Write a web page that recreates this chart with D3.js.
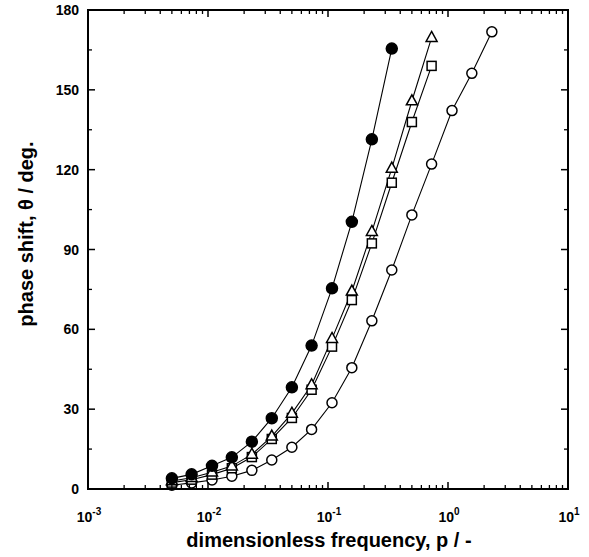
<!DOCTYPE html>
<html><head><meta charset="utf-8">
<script src="https://cdn.jsdelivr.net/npm/d3@7"></script>
<style>body{margin:0;background:#fff}</style>
</head><body>
<svg id="c" width="589" height="557"></svg>
<script>
const freqs = [0.005, 0.0073, 0.0108, 0.0158, 0.0232, 0.034, 0.05, 0.073, 0.108, 0.158, 0.232, 0.34, 0.5, 0.73, 1.08, 1.58, 2.32];
const filledCircle = [4.0, 5.5, 8.7, 11.9, 17.8, 26.6, 38.2, 53.9, 75.4, 100.4, 131.4, 165.5];
const triangle = [3.0, 4.2, 6.3, 8.6, 13.0, 19.8, 28.4, 39.1, 56.5, 74.3, 96.7, 120.5, 145.8, 169.6];
const square = [2.4, 3.5, 5.4, 7.8, 12.0, 18.8, 26.7, 37.3, 53.5, 71.0, 92.3, 115.1, 137.9, 159.0];
const openCircle = [1.4, 2.3, 3.4, 4.8, 7.0, 10.9, 15.7, 22.4, 32.4, 45.6, 63.2, 82.3, 103.0, 122.1, 142.2, 156.2, 171.8];
const yTicks = [0, 30, 60, 90, 120, 150, 180];
const xTickExps = [-3, -2, -1, 0, 1];

const svg = d3.select("#c");
const L = 88, R = 568, T = 10, B = 489;
const x = d3.scaleLog().domain([1e-3, 10]).range([L, R]);
const y = d3.scaleLinear().domain([0, 180]).range([B, T]);

const font = "Liberation Sans, Arial, sans-serif";

const series = [
  {vals: openCircle, type: "circle", fill: "#fff"},
  {vals: square, type: "square", fill: "#fff"},
  {vals: triangle, type: "triangle", fill: "#fff"},
  {vals: filledCircle, type: "circle", fill: "#000"}
];
const line = d3.line().x(d => x(d[0])).y(d => y(d[1]));
series.forEach(s => {
  const pts = s.vals.map((v, i) => [freqs[i], v]);
  svg.append("path").attr("d", line(pts)).attr("fill", "none").attr("stroke", "#000").attr("stroke-width", 1.1);
});
series.forEach(s => {
  const pts = s.vals.map((v, i) => [freqs[i], v]);
  const g = svg.append("g");
  pts.forEach(p => {
    const cx = x(p[0]), cy = y(p[1]);
    if (s.type === "circle") {
      g.append("circle").attr("cx", cx).attr("cy", cy).attr("r", s.fill === "#000" ? 5.5 : 5)
        .attr("fill", s.fill).attr("stroke", "#000").attr("stroke-width", 1.5);
    } else if (s.type === "square") {
      g.append("rect").attr("x", cx - 4.5).attr("y", cy - 4.5).attr("width", 9).attr("height", 9)
        .attr("fill", s.fill).attr("stroke", "#000").attr("stroke-width", 1.5);
    } else {
      const h = 10, w = 11;
      g.append("path").attr("d", `M${cx},${cy - h * 0.62}L${cx + w / 2},${cy + h * 0.38}L${cx - w / 2},${cy + h * 0.38}Z`)
        .attr("fill", s.fill).attr("stroke", "#000").attr("stroke-width", 1.5);
    }
  });
});

const xMinor = [];
for (let e = -3; e < 1; e++) for (let m = 2; m <= 9; m++) xMinor.push(m * Math.pow(10, e));
const xMajor = xTickExps.map(e => Math.pow(10, e));
const yMinor = d3.range(15, 180, 30);

const ax = svg.append("g").attr("stroke", "#000");
xMajor.forEach(v => {
  ax.append("line").attr("x1", x(v)).attr("x2", x(v)).attr("y1", B).attr("y2", B - 7).attr("stroke-width", 1.5);
  ax.append("line").attr("x1", x(v)).attr("x2", x(v)).attr("y1", T).attr("y2", T + 7).attr("stroke-width", 1.5);
});
xMinor.forEach(v => {
  ax.append("line").attr("x1", x(v)).attr("x2", x(v)).attr("y1", B).attr("y2", B - 4).attr("stroke-width", 1.3);
  ax.append("line").attr("x1", x(v)).attr("x2", x(v)).attr("y1", T).attr("y2", T + 4).attr("stroke-width", 1.3);
});
yTicks.forEach(v => {
  ax.append("line").attr("x1", L).attr("x2", L + 7).attr("y1", y(v)).attr("y2", y(v)).attr("stroke-width", 1.5);
  ax.append("line").attr("x1", R).attr("x2", R - 7).attr("y1", y(v)).attr("y2", y(v)).attr("stroke-width", 1.5);
});
yMinor.forEach(v => {
  ax.append("line").attr("x1", L).attr("x2", L + 4).attr("y1", y(v)).attr("y2", y(v)).attr("stroke-width", 1.3);
  ax.append("line").attr("x1", R).attr("x2", R - 4).attr("y1", y(v)).attr("y2", y(v)).attr("stroke-width", 1.3);
});
svg.append("rect").attr("x", L).attr("y", T).attr("width", R - L).attr("height", B - T)
  .attr("fill", "none").attr("stroke", "#000").attr("stroke-width", 2);

yTicks.forEach(v => {
  svg.append("text").attr("x", L - 9).attr("y", y(v) + 5).attr("text-anchor", "end")
    .attr("font-family", font).attr("font-size", 14).attr("font-weight", "bold").text(v);
});
xTickExps.forEach(e => {
  const t = svg.append("text").attr("x", x(Math.pow(10, e)) + 1).attr("y", 522).attr("text-anchor", "middle")
    .attr("font-family", font).attr("font-size", 14).attr("font-weight", "bold");
  t.append("tspan").text("10");
  t.append("tspan").attr("dy", -7).attr("font-size", 10).text(String(e));
});

svg.append("text").attr("x", (L + R) / 2 + 1).attr("y", 547).attr("text-anchor", "middle")
  .attr("font-family", font).attr("font-size", 20).attr("font-weight", "bold")
  .text("dimensionless frequency, p / -");
svg.append("text").attr("transform", `translate(33,234) rotate(-90)`).attr("text-anchor", "middle")
  .attr("font-family", font).attr("font-size", 20).attr("font-weight", "bold")
  .text("phase shift,  \u03B8 / deg.");
</script>
</body></html>
